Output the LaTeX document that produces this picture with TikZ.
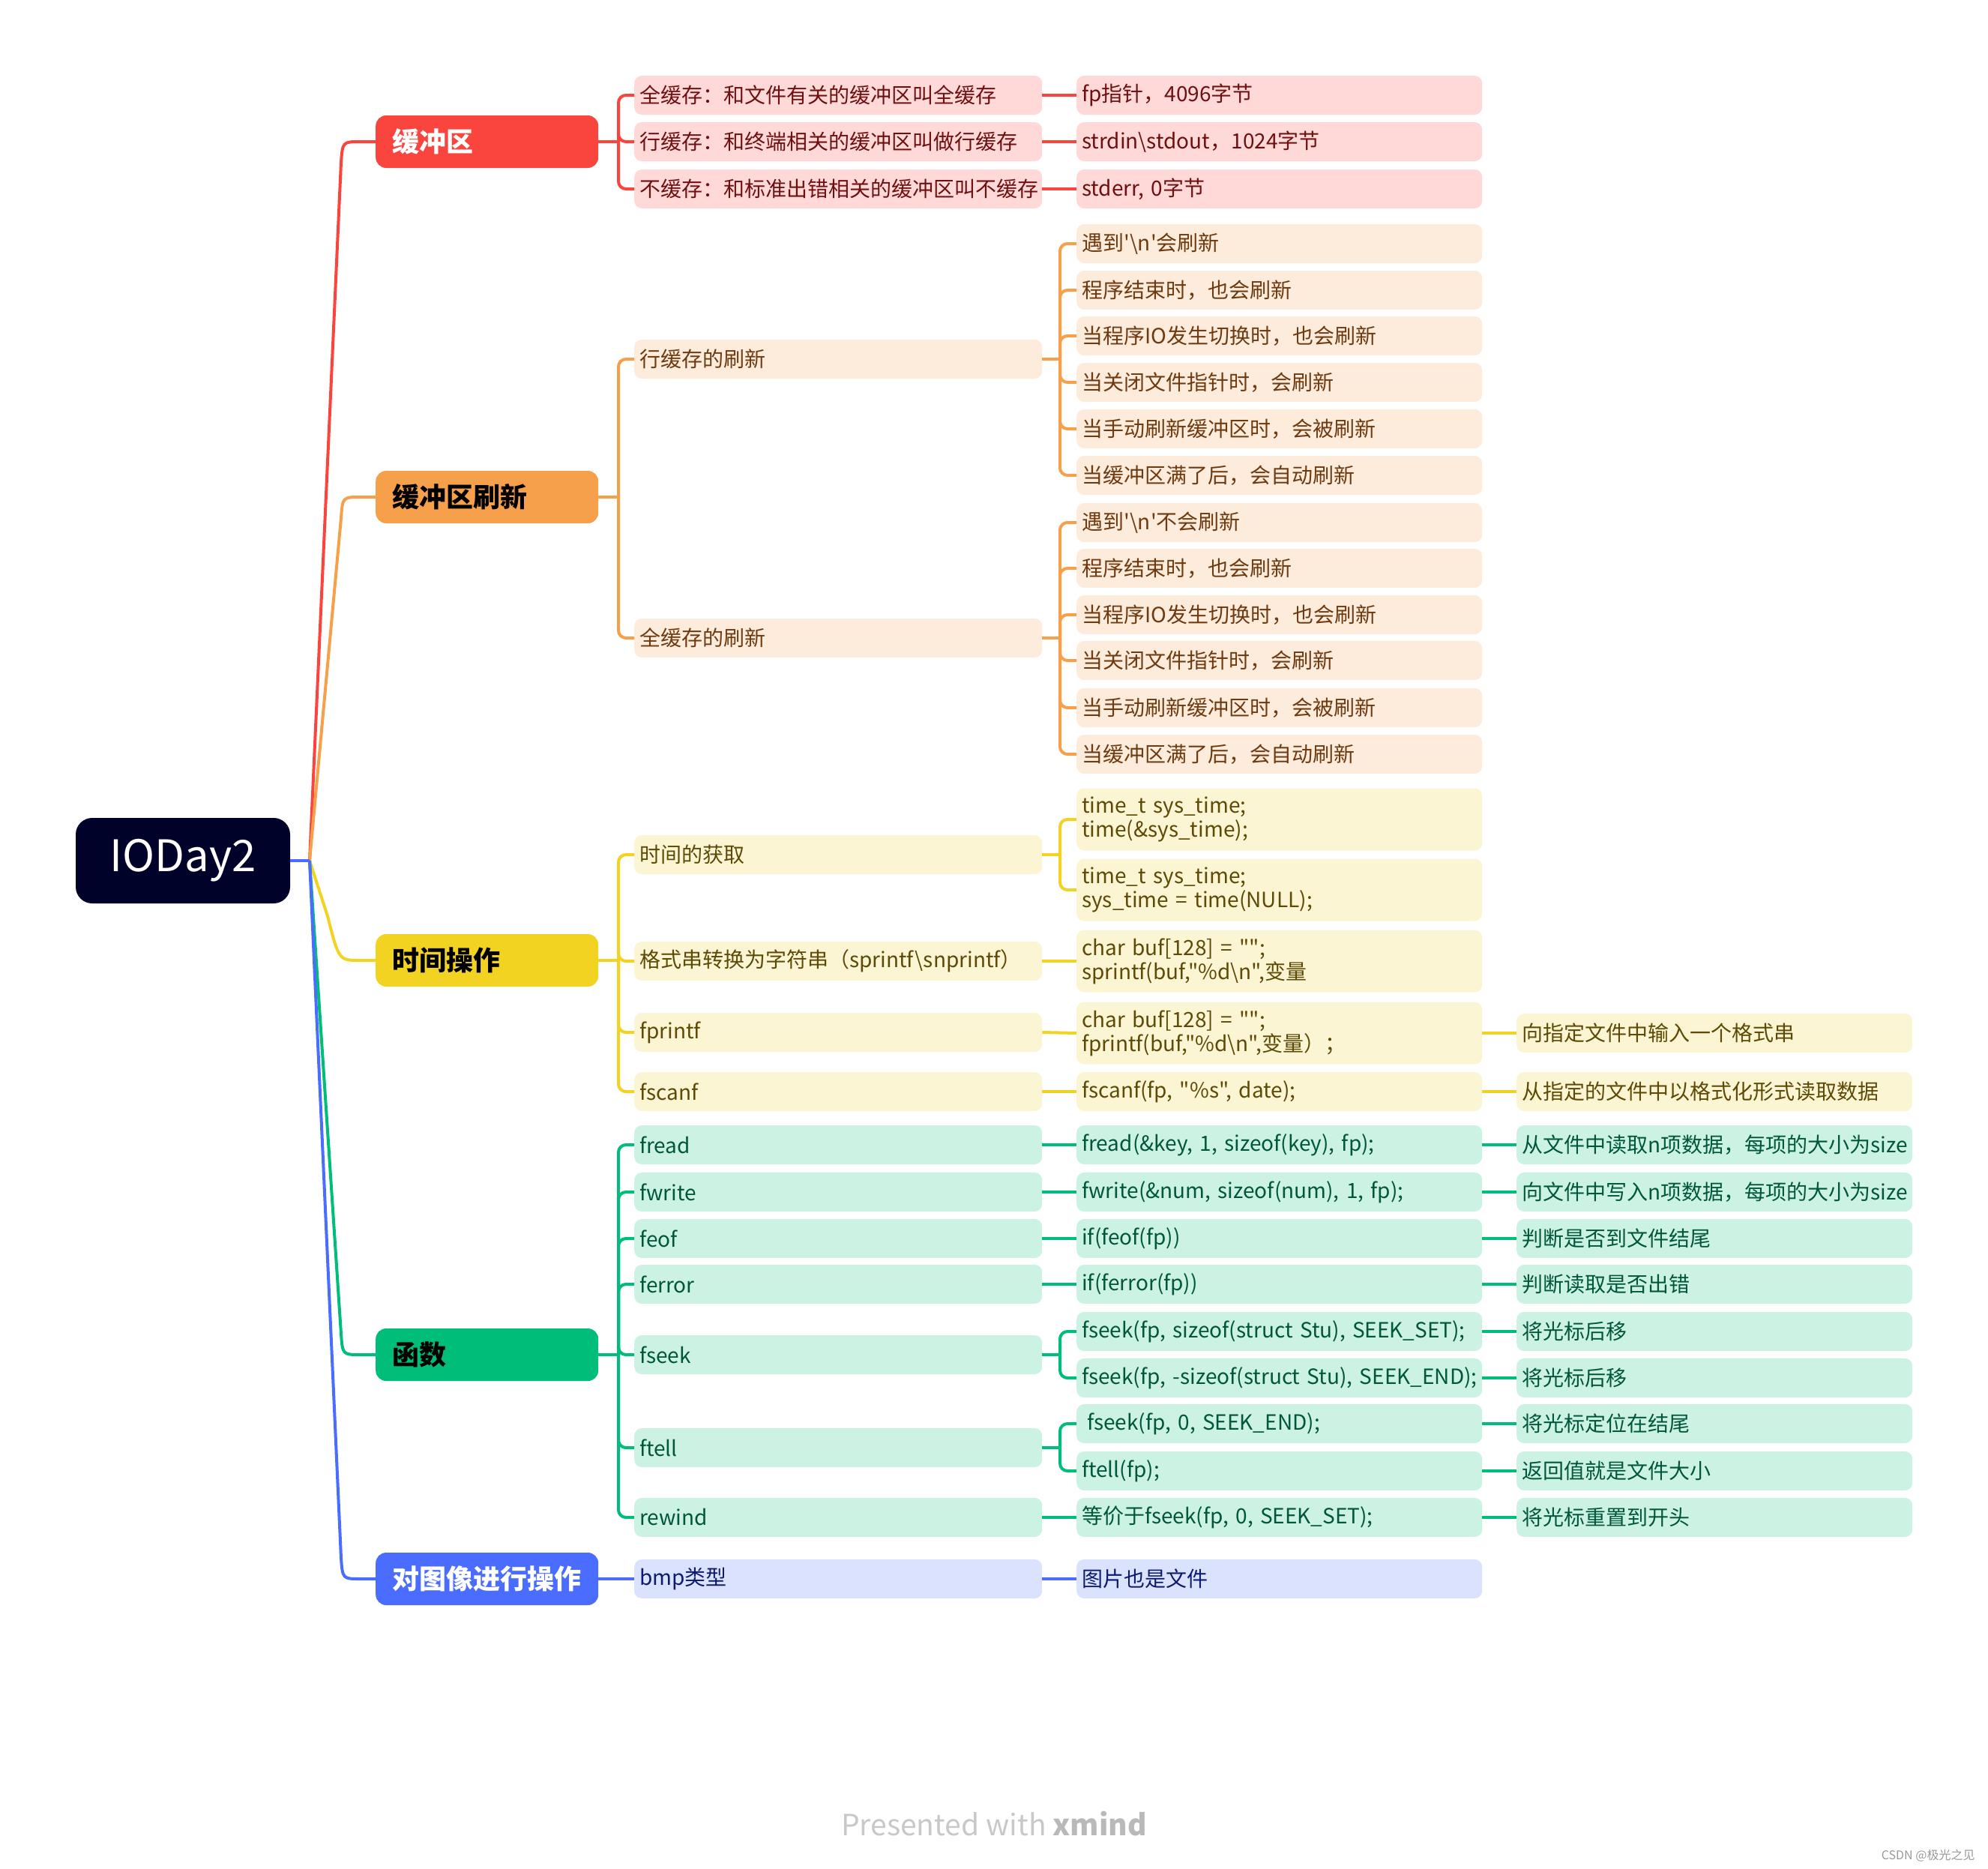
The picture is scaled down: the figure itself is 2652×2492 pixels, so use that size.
\documentclass[tikz,border=0pt]{standalone}
\usepackage{fontspec}
\newfontfamily\cjk{Noto Sans CJK SC}
\definecolor{rootC}{HTML}{000229}
\definecolor{redL}{HTML}{FA453F}\definecolor{redF}{HTML}{FFD9D8}\definecolor{redT}{HTML}{6E1010}
\definecolor{orL}{HTML}{F7A04B}\definecolor{orF}{HTML}{FDEBDB}\definecolor{orT}{HTML}{6E3A10}
\definecolor{yeL}{HTML}{F2D321}\definecolor{yeF}{HTML}{FCF5D4}\definecolor{yeT}{HTML}{5C4A05}
\definecolor{grL}{HTML}{00BD7A}\definecolor{grF}{HTML}{CCF2E4}\definecolor{grT}{HTML}{00573A}
\definecolor{blL}{HTML}{4A6CFF}\definecolor{blF}{HTML}{DBE2FD}\definecolor{blT}{HTML}{0C1B6E}
\definecolor{wmC}{HTML}{C8C8C8}
\tikzset{
  rootn/.style={fill=rootC, rounded corners=22pt, minimum width=286pt, minimum height=114pt,
    text=white, inner sep=0pt, font=\cjk\fontsize{58pt}{62pt}\selectfont},
  mainn/.style={anchor=west, rounded corners=14pt, minimum height=70pt, text width=252pt,
    inner xsep=22.5pt, inner ysep=0pt, align=left, font=\cjk\bfseries\fontsize{36pt}{40pt}\selectfont},
  subn/.style={anchor=west, rounded corners=10pt, minimum height=52pt, inner xsep=7pt,
    inner ysep=0pt, align=left, font=\cjk\fontsize{28pt}{32pt}\selectfont},
  ltwo/.style={subn, text width=530pt},
  lthree/.style={subn, text width=527pt},
  lfour/.style={subn, text width=514pt},
  tall/.style={minimum height=83pt},
  rb/.style={fill=redF, text=redT}, ob/.style={fill=orF, text=orT},
  yb/.style={fill=yeF, text=yeT}, gb/.style={fill=grF, text=grT},
  bb/.style={fill=blF, text=blT},
  lw/.style={line width=4pt},
  bus/.style={line width=4pt, rounded corners=10pt},
}
\begin{document}
\begin{tikzpicture}[x=1pt,y=-1pt]
\useasboundingbox (0,0) rectangle (2652,2492);
% root
\node[rootn] (root) at (244,1148) {IODay2};
% main nodes
\node[mainn, fill=redL, text=white] (m1) at (501,189) {缓冲区};
\node[mainn, fill=orL, text=black] (m2) at (501,663) {缓冲区刷新};
\node[mainn, fill=yeL, text=black] (m3) at (501,1281) {时间操作};
\node[mainn, fill=grL, text=black] (m4) at (501,1807) {函数};
\node[mainn, fill=blL, text=white] (m5) at (501,2106) {对图像进行操作};
% root connectors
\coordinate (J) at (413,1148);
\draw[redL,lw] (J) -- (455,217) .. controls (457,189) .. (481,189) -- (m1.west);
\draw[orL,lw] (J) -- (455,691) .. controls (457,663) .. (481,663) -- (m2.west);
\draw[yeL,lw] (J) -- (437,1222) .. controls (452,1281) .. (480,1281) -- (m3.west);
\draw[grL,lw] (J) -- (455,1779) .. controls (457,1807) .. (481,1807) -- (m4.west);
\draw[blL,lw] (J) -- (455,2078) .. controls (457,2106) .. (481,2106) -- (m5.west);
\draw[blL,lw] (root.east) -- (J);

% ---------- branch 1: 缓冲区 ----------
\node[ltwo,rb] (a1) at (846,127) {\mbox{全缓存：和文件有关的缓冲区叫全缓存}};
\node[ltwo,rb] (a2) at (846,189) {\mbox{行缓存：和终端相关的缓冲区叫做行缓存}};
\node[ltwo,rb] (a3) at (846,252) {\mbox{不缓存：和标准出错相关的缓冲区叫不缓存}};
\node[lthree,rb] (a1c) at (1436,127) {\mbox{fp指针，4096字节}};
\node[lthree,rb] (a2c) at (1436,189) {\mbox{strdin\textbackslash stdout，1024字节}};
\node[lthree,rb] (a3c) at (1436,252) {\mbox{stderr, 0字节}};
\draw[redL,lw] (m1.east) -- (825,189);
\foreach \c in {a1,a2,a3} \draw[redL,bus] (825,189) |- (\c.west);
\foreach \c in {a1,a2,a3} \draw[redL,lw] (\c.east) -- (\c c.west);

% ---------- branch 2: 缓冲区刷新 ----------
\node[ltwo,ob] (b1) at (846,479) {行缓存的刷新};
\node[ltwo,ob] (b2) at (846,851) {全缓存的刷新};
\node[lthree,ob] (b11) at (1436,325) {\mbox{遇到\char"0027\textbackslash n\char"0027会刷新}};
\node[lthree,ob] (b12) at (1436,387) {\mbox{程序结束时，也会刷新}};
\node[lthree,ob] (b13) at (1436,448) {\mbox{当程序IO发生切换时，也会刷新}};
\node[lthree,ob] (b14) at (1436,510) {\mbox{当关闭文件指针时，会刷新}};
\node[lthree,ob] (b15) at (1436,572) {\mbox{当手动刷新缓冲区时，会被刷新}};
\node[lthree,ob] (b16) at (1436,634) {\mbox{当缓冲区满了后，会自动刷新}};
\node[lthree,ob] (b21) at (1436,697) {\mbox{遇到\char"0027\textbackslash n\char"0027不会刷新}};
\node[lthree,ob] (b22) at (1436,758) {\mbox{程序结束时，也会刷新}};
\node[lthree,ob] (b23) at (1436,820) {\mbox{当程序IO发生切换时，也会刷新}};
\node[lthree,ob] (b24) at (1436,881) {\mbox{当关闭文件指针时，会刷新}};
\node[lthree,ob] (b25) at (1436,944) {\mbox{当手动刷新缓冲区时，会被刷新}};
\node[lthree,ob] (b26) at (1436,1006) {\mbox{当缓冲区满了后，会自动刷新}};
\draw[orL,lw] (m2.east) -- (825,663);
\foreach \c in {b1,b2} \draw[orL,bus] (825,663) |- (\c.west);
\draw[orL,lw] (b1.east) -- (1414,479);
\foreach \c in {b11,b12,b13,b14,b15,b16} \draw[orL,bus] (1414,479) |- (\c.west);
\draw[orL,lw] (b2.east) -- (1414,851);
\foreach \c in {b21,b22,b23,b24,b25,b26} \draw[orL,bus] (1414,851) |- (\c.west);

% ---------- branch 3: 时间操作 ----------
\node[ltwo,yb] (c1) at (846,1140) {时间的获取};
\node[ltwo,yb] (c2) at (846,1282) {\mbox{格式串转换为字符串（sprintf\textbackslash snprintf）}};
\node[ltwo,yb] (c3) at (846,1377) {fprintf};
\node[ltwo,yb] (c4) at (846,1456) {fscanf};
\node[lthree,yb,tall] (c11) at (1436,1093) {\mbox{time\_t sys\_time;}\\\mbox{time(\&sys\_time);}};
\node[lthree,yb,tall] (c12) at (1436,1187) {\mbox{time\_t sys\_time;}\\\mbox{sys\_time = time(NULL);}};
\node[lthree,yb,tall] (c2c) at (1436,1282) {\mbox{char buf[128] = "";}\\\mbox{sprintf(buf,"\%d\textbackslash n",变量}};
\node[lthree,yb,tall] (c3c) at (1436,1378) {\mbox{char buf[128] = "";}\\\mbox{fprintf(buf,"\%d\textbackslash n",变量）；}};
\node[lthree,yb] (c4c) at (1436,1456) {\mbox{fscanf(fp, "\%s", date);}};
\node[lfour,yb] (c3cd) at (2023,1378) {\mbox{向指定文件中输入一个格式串}};
\node[lfour,yb] (c4cd) at (2023,1456) {\mbox{从指定的文件中以格式化形式读取数据}};
\draw[yeL,lw] (m3.east) -- (825,1281);
\foreach \c in {c1,c2,c3,c4} \draw[yeL,bus] (825,1281) |- (\c.west);
\draw[yeL,lw] (c1.east) -- (1414,1140);
\foreach \c in {c11,c12} \draw[yeL,bus] (1414,1140) |- (\c.west);
\foreach \c in {c2,c3,c4} \draw[yeL,lw] (\c.east) -- (\c c.west);
\foreach \c in {c3c,c4c} \draw[yeL,lw] (\c.east) -- (\c d.west);

% ---------- branch 4: 函数 ----------
\node[ltwo,gb] (d1) at (846,1527) {fread};
\node[ltwo,gb] (d2) at (846,1590) {fwrite};
\node[ltwo,gb] (d3) at (846,1652) {feof};
\node[ltwo,gb] (d4) at (846,1713) {ferror};
\node[ltwo,gb] (d5) at (846,1807) {fseek};
\node[ltwo,gb] (d6) at (846,1931) {ftell};
\node[ltwo,gb] (d7) at (846,2024) {rewind};
\node[lthree,gb] (d1c) at (1436,1527) {\mbox{fread(\&key, 1, sizeof(key), fp);}};
\node[lthree,gb] (d2c) at (1436,1590) {\mbox{fwrite(\&num, sizeof(num), 1, fp);}};
\node[lthree,gb] (d3c) at (1436,1652) {\mbox{if(feof(fp))}};
\node[lthree,gb] (d4c) at (1436,1713) {\mbox{if(ferror(fp))}};
\node[lthree,gb] (d51) at (1436,1776) {\mbox{fseek(fp, sizeof(struct Stu), SEEK\_SET);}};
\node[lthree,gb] (d52) at (1436,1838) {\mbox{fseek(fp, -sizeof(struct Stu), SEEK\_END);}};
\node[lthree,gb] (d61) at (1436,1899) {\mbox{\hspace{7pt}fseek(fp, 0, SEEK\_END);}};
\node[lthree,gb] (d62) at (1436,1962) {\mbox{ftell(fp);}};
\node[lthree,gb] (d7c) at (1436,2024) {\mbox{等价于fseek(fp, 0, SEEK\_SET);}};
\node[lfour,gb] (d1cd) at (2023,1527) {\mbox{从文件中读取n项数据，每项的大小为size}};
\node[lfour,gb] (d2cd) at (2023,1590) {\mbox{向文件中写入n项数据，每项的大小为size}};
\node[lfour,gb] (d3cd) at (2023,1652) {\mbox{判断是否到文件结尾}};
\node[lfour,gb] (d4cd) at (2023,1713) {\mbox{判断读取是否出错}};
\node[lfour,gb] (d51d) at (2023,1776) {\mbox{将光标后移}};
\node[lfour,gb] (d52d) at (2023,1838) {\mbox{将光标后移}};
\node[lfour,gb] (d61d) at (2023,1899) {\mbox{将光标定位在结尾}};
\node[lfour,gb] (d62d) at (2023,1962) {\mbox{返回值就是文件大小}};
\node[lfour,gb] (d7cd) at (2023,2024) {\mbox{将光标重置到开头}};
\draw[grL,lw] (m4.east) -- (825,1807);
\foreach \c in {d1,d2,d3,d4,d5,d6,d7} \draw[grL,bus] (825,1807) |- (\c.west);
\foreach \c in {d1,d2,d3,d4,d7} \draw[grL,lw] (\c.east) -- (\c c.west);
\draw[grL,lw] (d5.east) -- (1414,1807);
\foreach \c in {d51,d52} \draw[grL,bus] (1414,1807) |- (\c.west);
\draw[grL,lw] (d6.east) -- (1414,1931);
\foreach \c in {d61,d62} \draw[grL,bus] (1414,1931) |- (\c.west);
\foreach \c in {d1c,d2c,d3c,d4c,d51,d52,d61,d62,d7c} \draw[grL,lw] (\c.east) -- (\c d.west);

% ---------- branch 5: 对图像进行操作 ----------
\node[ltwo,bb] (e1) at (846,2106) {bmp类型};
\node[lthree,bb] (e1c) at (1436,2106) {图片也是文件};
\draw[blL,lw] (m5.east) -- (e1.west);
\draw[blL,lw] (e1.east) -- (e1c.west);

% watermarks
\node[font=\cjk\fontsize{39pt}{43pt}\selectfont, text=wmC, anchor=base] (wm) at (1326,2448)
  {Presented with {\bfseries\color{gray!55}xmind}};
\node[font=\cjk\fontsize{16pt}{18pt}\selectfont, text=gray!80, anchor=base east] (csdn) at (2638,2480)
  {CSDN @极光之见};
\end{tikzpicture}
\end{document}
